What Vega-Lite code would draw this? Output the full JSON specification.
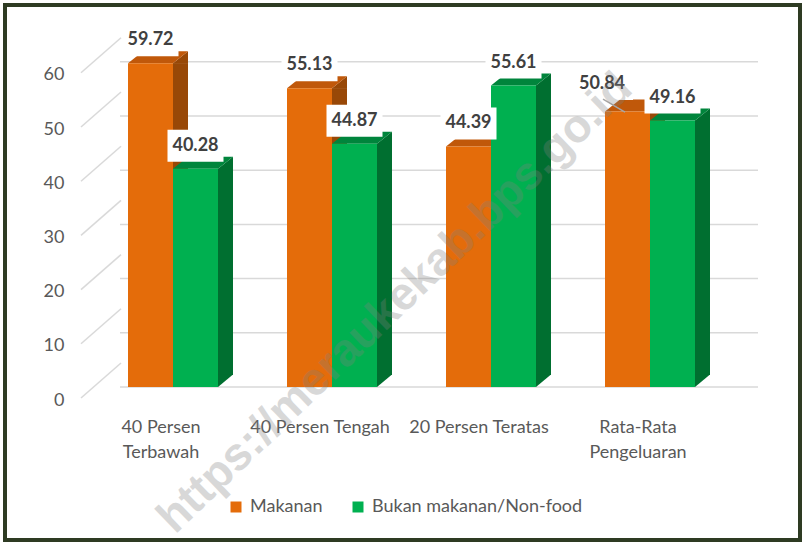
{
  "$schema": "https://vega.github.io/schema/vega-lite/v6.json",
  "width": 795,
  "height": 535,
  "autosize": "none",
  "padding": {"left": 5, "top": 5, "right": 2, "bottom": 4},
  "background": "white",
  "config": {"view": {"stroke": "#2e3b23", "strokeWidth": 4}, "font": "Lato"},
  "datasets": {
    "d": [
      {"kategori": "40 Persen Terbawah", "seri": "Makanan", "v": 59.72},
      {"kategori": "40 Persen Terbawah", "seri": "Bukan makanan/Non-food", "v": 40.28},
      {"kategori": "40 Persen Tengah", "seri": "Makanan", "v": 55.13},
      {"kategori": "40 Persen Tengah", "seri": "Bukan makanan/Non-food", "v": 44.87},
      {"kategori": "20 Persen Teratas", "seri": "Makanan", "v": 44.39},
      {"kategori": "20 Persen Teratas", "seri": "Bukan makanan/Non-food", "v": 55.61},
      {"kategori": "Rata-Rata Pengeluaran", "seri": "Makanan", "v": 50.84},
      {"kategori": "Rata-Rata Pengeluaran", "seri": "Bukan makanan/Non-food", "v": 49.16}
    ],
    "grid": [{"g": 0}, {"g": 10}, {"g": 20}, {"g": 30}, {"g": 40}, {"g": 50}, {"g": 60}],
    "wm": [{"t": "https://meraukekab.bps.go.id"}]
  },
  "layer": [
    {
      "data": {"name": "grid"},
      "mark": {"type": "rule", "color": "#d9d9d9", "strokeWidth": 1.5, "xOffset": -53, "x2Offset": 108},
      "encoding": {
        "x": {
          "datum": "40 Persen Terbawah", "type": "nominal", "title": null,
          "scale": {"type": "band", "domain": ["40 Persen Terbawah", "40 Persen Tengah", "20 Persen Teratas", "Rata-Rata Pengeluaran"], "range": [88.5, 724.5], "paddingInner": 0, "paddingOuter": 0}
        },
        "x2": {"datum": "Rata-Rata Pengeluaran"},
        "y": {
          "field": "g", "type": "quantitative", "title": null,
          "scale": {"type": "linear", "domain": [0, 65], "range": [382, 29.7], "nice": false, "zero": true}
        }
      }
    },
    {
      "data": {"name": "grid"},
      "mark": {"type": "rule", "color": "#d9d9d9", "strokeWidth": 1.5, "xOffset": -92, "x2Offset": -52, "yOffset": 11, "y2Offset": -24},
      "encoding": {
        "x": {"datum": "40 Persen Terbawah", "type": "nominal", "title": null},
        "x2": {"datum": "40 Persen Terbawah"},
        "y": {"field": "g", "type": "quantitative", "title": null},
        "y2": {"field": "g"}
      }
    },
    {
      "data": {"name": "d"},
      "transform": [{"filter": "datum.seri == 'Makanan'"}],
      "mark": {"type": "bar", "color": "#984807", "width": 15, "xOffset": 7.5, "y2Offset": -12},
      "encoding": {
        "x": {"field": "kategori", "type": "nominal", "title": null},
        "y": {"field": "v", "type": "quantitative", "title": null},
        "y2": {"datum": 0}
      }
    },
    {
      "data": {"name": "d"},
      "transform": [{"filter": "datum.seri == 'Makanan'"}],
      "mark": {"type": "point", "shape": "M 22.5 0.5 L 22.5 0 L 37.5 -12 L 37.5 0.5 Z", "size": 4, "filled": true, "opacity": 1, "strokeWidth": 0, "color": "#984807", "xOffset": -22.5},
      "encoding": {
        "x": {"field": "kategori", "type": "nominal", "title": null},
        "y": {"field": "v", "type": "quantitative", "title": null}
      }
    },
    {
      "data": {"name": "d"},
      "transform": [{"filter": "datum.seri == 'Makanan'"}],
      "mark": {"type": "point", "shape": "M -22.5 0 L 22.5 0 L 37.5 -12 L -7.5 -12 Z", "size": 4, "filled": true, "opacity": 1, "strokeWidth": 0, "color": "#c0580a", "xOffset": -22.5},
      "encoding": {
        "x": {"field": "kategori", "type": "nominal", "title": null},
        "y": {"field": "v", "type": "quantitative", "title": null}
      }
    },
    {
      "data": {"name": "d"},
      "transform": [{"filter": "datum.seri == 'Makanan'"}],
      "mark": {"type": "bar", "width": 45, "xOffset": -22.5, "opacity": 1},
      "encoding": {
        "x": {
          "field": "kategori", "type": "nominal", "title": null,
          "scale": {"type": "band", "domain": ["40 Persen Terbawah", "40 Persen Tengah", "20 Persen Teratas", "Rata-Rata Pengeluaran"], "range": [88.5, 724.5], "paddingInner": 0, "paddingOuter": 0},
          "axis": {
            "title": null, "orient": "bottom", "offset": -122, "domain": false, "ticks": false, "grid": false,
            "labelPadding": 0, "labelOffset": -12, "labelFont": "Lato", "labelFontSize": 18, "labelColor": "#595959",
            "labelLineHeight": 25, "labelBaseline": "top", "labelAlign": "center", "labelAngle": 0, "labelOverlap": false, "labelLimit": 300,
            "labelExpr": "datum.label == '40 Persen Terbawah' ? ['40 Persen','Terbawah'] : datum.label == 'Rata-Rata Pengeluaran' ? ['Rata-Rata','Pengeluaran'] : datum.label"
          }
        },
        "y": {
          "field": "v", "type": "quantitative", "title": null,
          "scale": {"type": "linear", "domain": [0, 65], "range": [382, 29.7], "nice": false, "zero": true},
          "axis": {
            "title": null, "orient": "left", "offset": -61, "values": [0, 10, 20, 30, 40, 50, 60],
            "domain": false, "ticks": false, "grid": false, "labelPadding": 2, "labelOffset": 13,
            "labelFont": "Lato", "labelFontSize": 18, "labelColor": "#595959", "labelBaseline": "middle", "labelAlign": "right"
          }
        },
        "y2": {"datum": 0},
        "color": {
          "field": "seri", "type": "nominal",
          "scale": {"domain": ["Makanan", "Bukan makanan/Non-food"], "range": ["#e46c0a", "#00b050"]},
          "legend": {
            "orient": "none", "legendX": 222, "legendY": 493, "direction": "horizontal", "title": null,
            "symbolType": "square", "symbolSize": 121, "symbolStrokeWidth": 0, "symbolOpacity": 1,
            "labelFont": "Lato", "labelFontSize": 18, "labelColor": "#595959", "labelOffset": 5, "labelLimit": 400,
            "columnPadding": 26, "padding": 0
          }
        }
      }
    },
    {
      "data": {"name": "d"},
      "transform": [{"filter": "datum.seri != 'Makanan'"}],
      "mark": {"type": "bar", "color": "#006f30", "width": 15, "xOffset": 52.5, "y2Offset": -12},
      "encoding": {
        "x": {"field": "kategori", "type": "nominal", "title": null},
        "y": {"field": "v", "type": "quantitative", "title": null},
        "y2": {"datum": 0}
      }
    },
    {
      "data": {"name": "d"},
      "transform": [{"filter": "datum.seri != 'Makanan'"}],
      "mark": {"type": "point", "shape": "M 22.5 0.5 L 22.5 0 L 37.5 -12 L 37.5 0.5 Z", "size": 4, "filled": true, "opacity": 1, "strokeWidth": 0, "color": "#006f30", "xOffset": 22.5},
      "encoding": {
        "x": {"field": "kategori", "type": "nominal", "title": null},
        "y": {"field": "v", "type": "quantitative", "title": null}
      }
    },
    {
      "data": {"name": "d"},
      "transform": [{"filter": "datum.seri != 'Makanan'"}],
      "mark": {"type": "point", "shape": "M 22.5 -12.5 L 37.5 -12.5 L 22.5 0 Z", "size": 4, "filled": true, "opacity": 1, "strokeWidth": 0, "color": "#006f30", "xOffset": 22.5},
      "encoding": {
        "x": {"field": "kategori", "type": "nominal", "title": null},
        "y": {"datum": 0, "type": "quantitative", "title": null}
      }
    },
    {
      "data": {"name": "d"},
      "transform": [{"filter": "datum.seri != 'Makanan'"}],
      "mark": {"type": "point", "shape": "M -22.5 0 L 22.5 0 L 37.5 -12 L -7.5 -12 Z", "size": 4, "filled": true, "opacity": 1, "strokeWidth": 0, "color": "#00853c", "xOffset": 22.5},
      "encoding": {
        "x": {"field": "kategori", "type": "nominal", "title": null},
        "y": {"field": "v", "type": "quantitative", "title": null}
      }
    },
    {
      "data": {"name": "d"},
      "transform": [{"filter": "datum.seri != 'Makanan'"}],
      "mark": {"type": "bar", "width": 45, "xOffset": 22.5, "opacity": 1},
      "encoding": {
        "x": {"field": "kategori", "type": "nominal", "title": null},
        "y": {"field": "v", "type": "quantitative", "title": null},
        "y2": {"datum": 0},
        "color": {"field": "seri", "type": "nominal"}
      }
    },
    {
      "data": {"name": "d"},
      "transform": [{"filter": "datum.seri == 'Makanan' && datum.kategori != 'Rata-Rata Pengeluaran'"}],
      "mark": {"type": "point", "shape": "M -28 -16 L 28 -16 L 28 16 L -28 16 Z", "size": 4, "filled": true, "opacity": 1, "strokeWidth": 0, "color": "white", "xOffset": -22.5, "yOffset": -23},
      "encoding": {
        "x": {"field": "kategori", "type": "nominal", "title": null},
        "y": {"field": "v", "type": "quantitative", "title": null}
      }
    },
    {
      "data": {"name": "d"},
      "transform": [{"filter": "datum.seri == 'Makanan' && datum.kategori == 'Rata-Rata Pengeluaran'"}],
      "mark": {"type": "point", "shape": "M -31 -16 L 31 -16 L 31 16 L -31 16 Z", "size": 4, "filled": true, "opacity": 1, "strokeWidth": 0, "color": "white", "xOffset": -48, "yOffset": -27.5},
      "encoding": {
        "x": {"field": "kategori", "type": "nominal", "title": null},
        "y": {"field": "v", "type": "quantitative", "title": null}
      }
    },
    {
      "data": {"name": "d"},
      "transform": [{"filter": "datum.seri != 'Makanan'"}],
      "mark": {"type": "point", "shape": "M -28 -16 L 28 -16 L 28 16 L -28 16 Z", "size": 4, "filled": true, "opacity": 1, "strokeWidth": 0, "color": "white", "xOffset": 22.5, "yOffset": -23},
      "encoding": {
        "x": {"field": "kategori", "type": "nominal", "title": null},
        "y": {"field": "v", "type": "quantitative", "title": null}
      }
    },
    {
      "data": {"name": "d"},
      "transform": [{"filter": "datum.seri == 'Makanan' && datum.kategori == 'Rata-Rata Pengeluaran'"}],
      "mark": {"type": "rule", "color": "#a6a6a6", "strokeWidth": 1.5, "xOffset": -47, "x2Offset": -25, "yOffset": -12.4, "y2Offset": 0.6},
      "encoding": {
        "x": {"field": "kategori", "type": "nominal", "title": null},
        "x2": {"field": "kategori"},
        "y": {"field": "v", "type": "quantitative", "title": null},
        "y2": {"field": "v"}
      }
    },
    {
      "data": {"name": "d"},
      "transform": [{"filter": "datum.seri == 'Makanan' && datum.kategori != 'Rata-Rata Pengeluaran'"}],
      "mark": {"type": "text", "font": "Lato", "fontSize": 18, "fontWeight": "bold", "color": "#404040", "baseline": "middle", "align": "center", "xOffset": -22.5, "yOffset": -23},
      "encoding": {
        "x": {"field": "kategori", "type": "nominal", "title": null},
        "y": {"field": "v", "type": "quantitative", "title": null},
        "text": {"field": "v", "type": "quantitative", "format": ".2f"}
      }
    },
    {
      "data": {"name": "d"},
      "transform": [{"filter": "datum.seri == 'Makanan' && datum.kategori == 'Rata-Rata Pengeluaran'"}],
      "mark": {"type": "text", "font": "Lato", "fontSize": 18, "fontWeight": "bold", "color": "#404040", "baseline": "middle", "align": "center", "xOffset": -48, "yOffset": -27.5},
      "encoding": {
        "x": {"field": "kategori", "type": "nominal", "title": null},
        "y": {"field": "v", "type": "quantitative", "title": null},
        "text": {"field": "v", "type": "quantitative", "format": ".2f"}
      }
    },
    {
      "data": {"name": "d"},
      "transform": [{"filter": "datum.seri != 'Makanan'"}],
      "mark": {"type": "text", "font": "Lato", "fontSize": 18, "fontWeight": "bold", "color": "#404040", "baseline": "middle", "align": "center", "xOffset": 22.5, "yOffset": -23},
      "encoding": {
        "x": {"field": "kategori", "type": "nominal", "title": null},
        "y": {"field": "v", "type": "quantitative", "title": null},
        "text": {"field": "v", "type": "quantitative", "format": ".2f"}
      }
    },
    {
      "data": {"name": "wm"},
      "mark": {"type": "text", "font": "Liberation Sans", "fontSize": 46, "fontWeight": "bold", "color": "#808080", "opacity": 0.3, "angle": 316, "align": "center", "baseline": "middle", "xOffset": 63},
      "encoding": {
        "x": {"datum": "40 Persen Tengah", "type": "nominal", "title": null},
        "y": {"datum": 15.5, "type": "quantitative", "title": null},
        "text": {"field": "t", "type": "nominal"}
      }
    }
  ]
}
